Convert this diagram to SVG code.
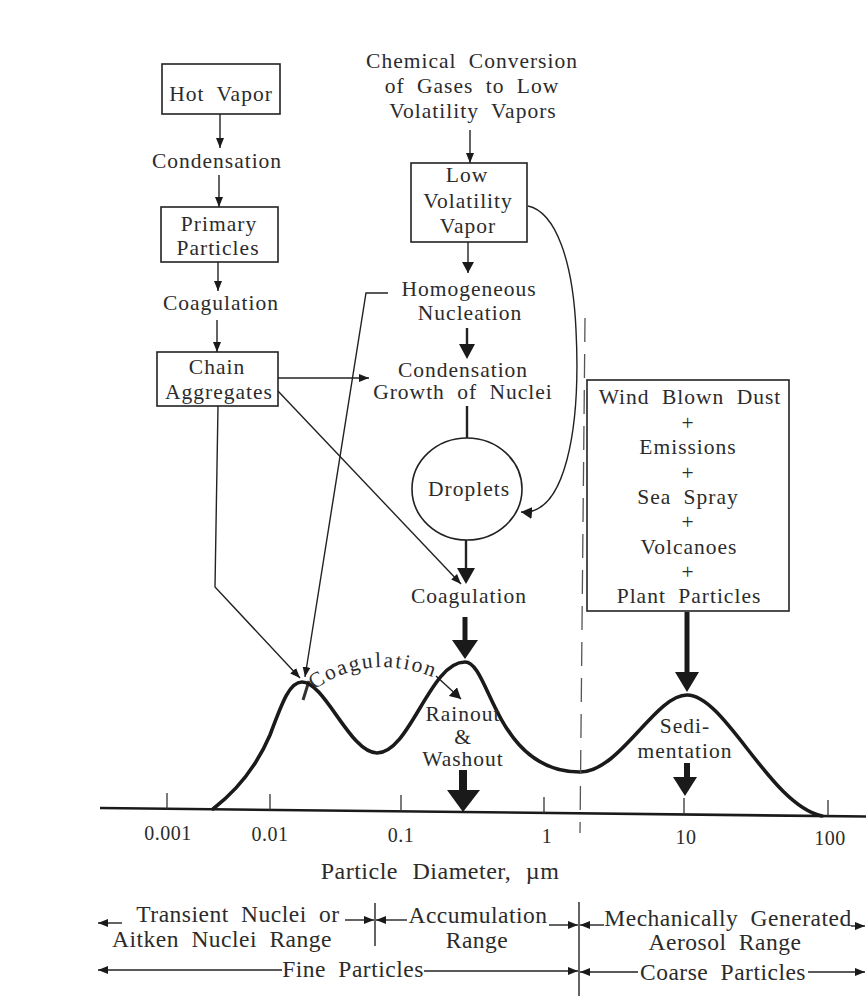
<svg xmlns="http://www.w3.org/2000/svg" width="866" height="999" viewBox="0 0 866 999">
<style>
text{font-family:"Liberation Serif","Times New Roman",serif;fill:#2b2b2b;font-size:21.5px;letter-spacing:1px;word-spacing:6px;text-anchor:middle}
.box{fill:#fff;stroke:#222;stroke-width:1.6}
.thin{fill:none;stroke:#222;stroke-width:1.4}
.mid{fill:none;stroke:#222;stroke-width:2.4}
.thick{fill:none;stroke:#1a1a1a;stroke-width:5}
.head{fill:#1a1a1a}
.curve{fill:none;stroke:#1a1a1a;stroke-width:3.6;stroke-linecap:round}
.axis{fill:none;stroke:#1a1a1a;stroke-width:2.6}
.tick{fill:none;stroke:#333;stroke-width:1.3}
.tl{font-size:20px;letter-spacing:0.5px}
.bt{font-size:23.5px;letter-spacing:0.5px;word-spacing:6px}
</style>
<defs>
<marker id="sm" markerUnits="userSpaceOnUse" markerWidth="10" markerHeight="8" refX="10" refY="4" orient="auto"><path d="M0,0 L10,4 L0,8 z" fill="#1a1a1a"/></marker>
<marker id="md" markerUnits="userSpaceOnUse" markerWidth="12" markerHeight="12" refX="11" refY="6" orient="auto"><path d="M0,0 L11,6 L0,12 z" fill="#1a1a1a"/></marker>
</defs>
<rect width="866" height="999" fill="#fff"/>

<g id="connectors">
<line class="thin" x1="220" y1="114" x2="220" y2="148" marker-end="url(#sm)"/>
<line class="thin" x1="219" y1="175" x2="219" y2="207" marker-end="url(#sm)"/>
<line class="thin" x1="218" y1="262" x2="218" y2="291" marker-end="url(#sm)"/>
<line class="thin" x1="217" y1="320" x2="217" y2="352" marker-end="url(#sm)"/>
<line class="thin" x1="470" y1="130" x2="470" y2="163" marker-end="url(#sm)"/>
<line class="thin" x1="468" y1="242" x2="468" y2="273" marker-end="url(#md)"/>
<line class="mid" x1="467" y1="328" x2="467" y2="346"/>
<polygon class="head" points="459,344 475,344 467,359"/>
<line class="mid" x1="467" y1="406" x2="467" y2="438"/>
<line class="mid" x1="466" y1="540" x2="466" y2="570"/>
<polygon class="head" points="457,568 475,568 466,584"/>
<line class="thick" x1="465" y1="617" x2="465" y2="642"/>
<polygon class="head" points="452,640 478,640 465,659"/>
<line class="thin" x1="278" y1="378" x2="369" y2="378" marker-end="url(#sm)"/>
<line class="thin" x1="277" y1="390" x2="461" y2="584" marker-end="url(#sm)"/>
<polyline class="thin" points="218,406 215,587 300,678" marker-end="url(#sm)"/>
<polyline class="thin" points="388,293 366,293 305,677" marker-end="url(#sm)"/>
<path class="thin" d="M528 206 C556 212 573 262 576 330 C581 430 565 516 521 512" marker-end="url(#md)"/>
<line class="thick" x1="687" y1="612" x2="687" y2="674"/>
<polygon class="head" points="675,672 699,672 687,692"/>
<rect x="684" y="763" width="6" height="16" fill="#1a1a1a"/>
<polygon class="head" points="673,777 697,777 685,796"/>
<rect x="459" y="770" width="8" height="22" fill="#1a1a1a"/>
<polygon class="head" points="447,790 480,790 463,812"/>
<line class="tick" x1="303" y1="700" x2="309" y2="681" style="stroke-width:3"/>
<line class="thin" x1="436" y1="676" x2="461" y2="699" marker-end="url(#md)"/>
</g>

<g id="chart">
<line class="axis" x1="100" y1="808" x2="866" y2="816.5"/>
<line class="tick" x1="167" y1="809" x2="167" y2="793"/>
<line class="tick" x1="270" y1="810" x2="270" y2="794"/>
<line class="tick" x1="401" y1="811.5" x2="401" y2="795"/>
<line class="tick" x1="544" y1="813" x2="544" y2="797"/>
<line class="tick" x1="684" y1="814.5" x2="684" y2="798"/>
<line class="tick" x1="828" y1="816" x2="828" y2="800"/>
<path class="curve" d="M213 809 C235 792 255 770 270 735 C283 700 290 682 302 682 C325 682 350 753 377 753 C410 753 430 662 465 662 C490 662 495 772 580 772 C620 772 655 695 687 695 C725 695 770 805 822 816"/>
<line x1="585" y1="318" x2="580" y2="833" stroke="#555" stroke-width="1.3" stroke-dasharray="24 12"/>
<text class="tl" x="168" y="840">0.001</text>
<text class="tl" x="270" y="841">0.01</text>
<text class="tl" x="401" y="842">0.1</text>
<text class="tl" x="547" y="843">1</text>
<text class="tl" x="686" y="844">10</text>
<text class="tl" x="830" y="845">100</text>
<text x="440" y="879" style="font-size:24px;letter-spacing:0.5px;word-spacing:8px">Particle Diameter, µm</text>
<path id="arc" d="M314 690 Q370 650 440 680" fill="none"/>
<text style="letter-spacing:2px;text-anchor:start"><textPath href="#arc">Coagulation</textPath></text>
</g>

<g id="hot-vapor"><rect class="box" x="162" y="64" width="118" height="50"/><text x="221" y="101">Hot Vapor</text></g>
<g id="condensation-1"><text x="217" y="168">Condensation</text></g>
<g id="primary-particles"><rect class="box" x="161" y="207" width="117" height="55"/><text x="219" y="231">Primary</text><text x="218" y="255">Particles</text></g>
<g id="coagulation-1"><text x="221" y="310">Coagulation</text></g>
<g id="chain-aggregates"><rect class="box" x="157" y="352" width="121" height="54"/><text x="217" y="374">Chain</text><text x="219" y="399">Aggregates</text></g>

<g id="chemical-conversion"><text x="472" y="68">Chemical Conversion</text><text x="472" y="93">of Gases to Low</text><text x="473" y="118">Volatility Vapors</text></g>
<g id="low-volatility-vapor"><rect class="box" x="411" y="163" width="116" height="79"/><text x="467" y="182">Low</text><text x="468" y="208">Volatility</text><text x="468" y="233">Vapor</text></g>
<g id="homogeneous-nucleation"><text x="469" y="296">Homogeneous</text><text x="470" y="320">Nucleation</text></g>
<g id="condensation-growth"><text x="463" y="377">Condensation</text><text x="463" y="399">Growth of Nuclei</text></g>
<g id="droplets"><ellipse class="box" cx="467" cy="489" rx="55" ry="51"/><text x="469" y="496">Droplets</text></g>
<g id="coagulation-2"><text x="469" y="603">Coagulation</text></g>
<g id="rainout-washout"><text x="463" y="721">Rainout</text><text x="463" y="744">&amp;</text><text x="463" y="766">Washout</text></g>
<g id="sources"><rect class="box" x="587" y="380" width="202" height="231"/>
<text x="690" y="404">Wind Blown Dust</text><text x="688" y="430">+</text><text x="688" y="454">Emissions</text><text x="688" y="480">+</text><text x="688" y="504">Sea Spray</text><text x="688" y="529">+</text><text x="689" y="554">Volcanoes</text><text x="688" y="579">+</text><text x="689" y="603">Plant Particles</text></g>
<g id="sedimentation"><text x="685" y="733">Sedi-</text><text x="685" y="758">mentation</text></g>

<g id="ranges">
<line class="thin" x1="375" y1="903" x2="375" y2="946"/>
<line class="thin" x1="579" y1="902" x2="579" y2="996"/>
<line class="thin" x1="122" y1="923" x2="98" y2="923" marker-end="url(#sm)"/>
<line class="thin" x1="345" y1="920" x2="374" y2="920" marker-end="url(#sm)"/>
<line class="thin" x1="407" y1="920" x2="376" y2="920" marker-end="url(#sm)"/>
<line class="thin" x1="549" y1="925" x2="578" y2="925" marker-end="url(#sm)"/>
<line class="thin" x1="604" y1="925" x2="580" y2="925" marker-end="url(#sm)"/>
<line class="thin" x1="851" y1="926" x2="865" y2="926" marker-end="url(#sm)"/>
<line class="thin" x1="282" y1="970" x2="98" y2="970" marker-end="url(#sm)"/>
<line class="thin" x1="424" y1="971" x2="578" y2="971" marker-end="url(#sm)"/>
<line class="thin" x1="638" y1="972" x2="580" y2="972" marker-end="url(#sm)"/>
<line class="thin" x1="808" y1="972" x2="865" y2="972" marker-end="url(#sm)"/>
<text class="bt" x="238" y="922">Transient Nuclei or</text>
<text class="bt" x="222" y="947">Aitken Nuclei Range</text>
<text class="bt" x="478" y="923">Accumulation</text>
<text class="bt" x="477" y="948">Range</text>
<text class="bt" x="728" y="926">Mechanically Generated</text>
<text class="bt" x="725" y="950">Aerosol Range</text>
<text class="bt" x="353" y="977">Fine Particles</text>
<text class="bt" x="723" y="980">Coarse Particles</text>
</g>
</svg>
